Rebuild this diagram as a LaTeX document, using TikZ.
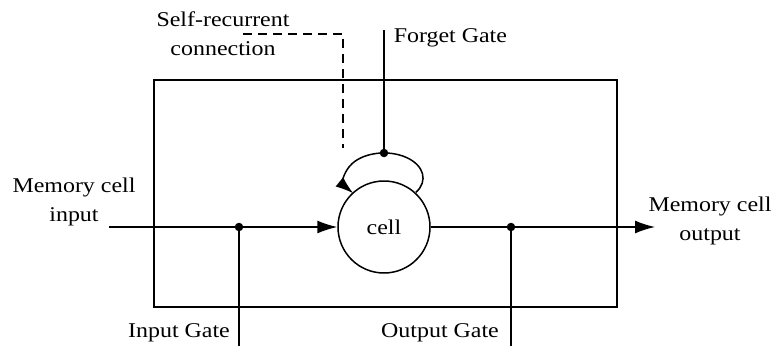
\documentclass[tikz,border=0pt]{standalone}
\usepackage{fontspec}
\setmainfont{Liberation Serif}[FakeStretch=1.14]
\usetikzlibrary{arrows.meta}
\begin{document}
\begin{tikzpicture}[x=1pt,y=1pt,
  line width=1.5pt,
  lbl/.style={font=\fontsize{21}{29}\selectfont, align=center, inner sep=0pt},
  dotnode/.style={circle, fill=black, inner sep=0pt, minimum size=8.5pt},
  bigtip/.style={-{Latex[length=20pt,width=13pt]}},
  smalltip/.style={-{Latex[length=18pt,width=12pt]}}]
\useasboundingbox (0,0) rectangle (775,346);
% box
\draw (154,39) rectangle (617,266);
% cell
\node[circle, draw, minimum size=92pt, inner sep=0pt, font=\fontsize{21}{24}\selectfont] (cell) at (384,119) {cell};
% coordinates
\coordinate (inS) at (109,119);
\node[dotnode] (inDot) at (239,119) {};
\node[dotnode] (outDot) at (511,119) {};
\coordinate (outE) at (655,119);
\coordinate (inGB) at (239,0);
\coordinate (outGB) at (511,0);
\coordinate (fgT) at (384,316);
\node[dotnode] (fgDot) at (384,193) {};
\coordinate (loopS) at (416,153.7);
\coordinate (dsA) at (243,312);
\coordinate (dsB) at (343,312);
\coordinate (dsC) at (343,198);
% connectors
\draw (inS) -- (inDot.center);
\draw[bigtip] (inDot.center) -- (cell.west);
\draw (cell.east) -- (outDot.center);
\draw[bigtip] (outDot.center) -- (outE);
\draw (inDot.center) -- (inGB);
\draw (outDot.center) -- (outGB);
\draw (fgT) -- (fgDot.center);
\draw[smalltip] (loopS) arc[start angle=-35, end angle=218, x radius=39, y radius=25];
\draw[dashed, dash pattern=on 9pt off 6pt] (dsA) -- (dsB) -- (dsC);
% labels
\node[lbl] (lsr) at (223,312) {Self-recurrent\\connection};
\node[lbl, anchor=west] (lfg) at (393,308) {Forget Gate};
\node[lbl] (lin) at (74,144) {Memory cell\\input};
\node[lbl] (lout) at (710,125) {Memory cell\\output};
\node[lbl] (lig) at (179,13) {Input Gate};
\node[lbl] (log) at (440,13) {Output Gate};
\end{tikzpicture}
\end{document}
